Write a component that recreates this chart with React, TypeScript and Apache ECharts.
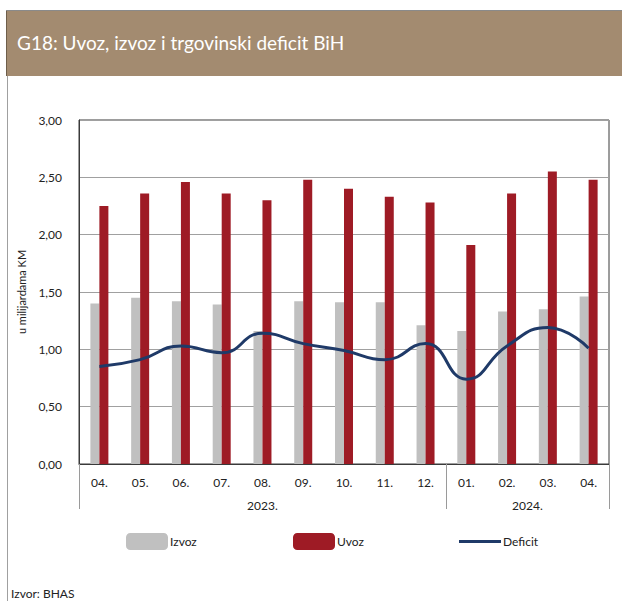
import React, { useEffect, useRef } from "react";
import * as echarts from "echarts";

const title = "G18: Uvoz, izvoz i trgovinski deficit BiH";
const source = "Izvor: BHAS";
const yAxisName = "u milijardama KM";
const months = ["04.", "05.", "06.", "07.", "08.", "09.", "10.", "11.", "12.", "01.", "02.", "03.", "04."];
const yearLabels = ["2023.", "2024."];
const yearStarts = [0, 9];
const yearCounts = [9, 4];
const izvoz = [1.4, 1.45, 1.42, 1.39, 1.16, 1.42, 1.41, 1.41, 1.21, 1.16, 1.33, 1.35, 1.46];
const uvoz = [2.25, 2.36, 2.46, 2.36, 2.3, 2.48, 2.4, 2.33, 2.28, 1.91, 2.36, 2.55, 2.48];
const deficit = [0.85, 0.91, 1.03, 0.97, 1.14, 1.05, 0.99, 0.91, 1.05, 0.74, 1.03, 1.19, 1.01];

const FONT = "Lato, 'Open Sans', sans-serif";

export default function App() {
  const ref = useRef<HTMLDivElement>(null);
  useEffect(() => {
    document.body.style.margin = "0";
    const chart = echarts.init(ref.current!, null, { renderer: "svg" });
    const yearCenters = yearStarts.map((s, i) => s + yearCounts[i] / 2);
    const legendText = { fontFamily: FONT, fontSize: 12, color: "#222", padding: [0, 0, 0, -3] };
    chart.setOption({
      animation: false,
      backgroundColor: "#ffffff",
      textStyle: { fontFamily: FONT },
      grid: { left: 79, right: 13, top: 120, bottom: 137, show: true, borderColor: "#3a3a3a", borderWidth: 1 },
      legend: [
        { data: ["Izvoz"], left: 121, top: 528, itemWidth: 42, itemHeight: 17, selectedMode: false, textStyle: legendText },
        { data: ["Uvoz"], left: 288, top: 528, itemWidth: 42, itemHeight: 17, selectedMode: false, textStyle: legendText },
        {
          data: [{ name: "Deficit", icon: "rect" }],
          left: 454,
          top: 528,
          itemWidth: 42,
          itemHeight: 3,
          selectedMode: false,
          textStyle: { ...legendText, lineHeight: 17 },
        },
      ],
      xAxis: [
        {
          type: "category",
          data: months,
          position: "bottom",
          axisLine: { show: true, lineStyle: { color: "#3a3a3a", width: 1 } },
          axisTick: {
            show: true,
            length: 45,
            interval: (idx: number) => yearStarts.includes(idx),
            lineStyle: { color: "#9a9a9a", width: 1 },
          },
          axisLabel: { margin: 12, fontFamily: FONT, fontSize: 12, color: "#222", interval: 0 },
          splitLine: { show: false },
        },
        {
          type: "value",
          min: 0,
          max: months.length,
          interval: 0.5,
          position: "bottom",
          axisLine: { show: false },
          axisTick: { show: false },
          splitLine: { show: false },
          axisLabel: {
            margin: 35,
            fontFamily: FONT,
            fontSize: 12,
            color: "#222",
            showMinLabel: true,
            showMaxLabel: true,
            formatter: (v: number) => {
              const i = yearCenters.findIndex((c) => Math.abs(c - v) < 1e-6);
              return i >= 0 ? yearLabels[i] : "";
            },
          },
        },
      ],
      yAxis: {
        type: "value",
        min: 0,
        max: 3,
        interval: 0.5,
        name: yAxisName,
        nameLocation: "middle",
        nameGap: 42,
        nameTextStyle: { fontFamily: FONT, fontSize: 11, color: "#222" },
        axisLine: { show: true, lineStyle: { color: "#3a3a3a", width: 1 } },
        axisTick: { show: false },
        axisLabel: {
          margin: 17,
          fontFamily: FONT,
          fontSize: 12,
          color: "#222",
          formatter: (v: number) => v.toFixed(2).replace(".", ","),
        },
        splitLine: { show: true, lineStyle: { color: "#a0a0a0", width: 1 } },
      },
      series: [
        {
          name: "Izvoz",
          type: "bar",
          data: izvoz,
          barWidth: 9,
          barGap: "0%",
          itemStyle: { color: "#c0c0c0" },
        },
        {
          name: "Uvoz",
          type: "bar",
          data: uvoz,
          barWidth: 9,
          barGap: "0%",
          itemStyle: { color: "#9e1b25" },
        },
        {
          name: "Deficit",
          type: "line",
          data: deficit,
          smooth: 0.5,
          symbol: "none",
          showSymbol: false,
          lineStyle: { color: "#1f3a68", width: 3 },
          itemStyle: { color: "#1f3a68" },
          z: 5,
        },
      ],
      graphic: [
        { type: "rect", shape: { x: 6, y: 11, width: 616, height: 65 }, style: { fill: "#a38b70" }, silent: true },
        { type: "line", shape: { x1: 6, y1: 10.5, x2: 622, y2: 10.5 }, style: { stroke: "#8a8a8a", lineWidth: 1 } },
        { type: "line", shape: { x1: 6.5, y1: 11, x2: 6.5, y2: 76 }, style: { stroke: "#6e5e4a", lineWidth: 1 } },
        { type: "line", shape: { x1: 7.5, y1: 76, x2: 7.5, y2: 601 }, style: { stroke: "#a0a0a0", lineWidth: 1 } },
        {
          type: "text",
          left: 17,
          top: 33,
          style: { text: title, fill: "#ffffff", font: `19px ${FONT}` },
        },
        {
          type: "text",
          left: 11,
          top: 587,
          style: { text: source, fill: "#222", font: `12px ${FONT}` },
        },
      ],
    });
    return () => chart.dispose();
  }, []);
  return <div ref={ref} style={{ width: 622, height: 601 }} />;
}
